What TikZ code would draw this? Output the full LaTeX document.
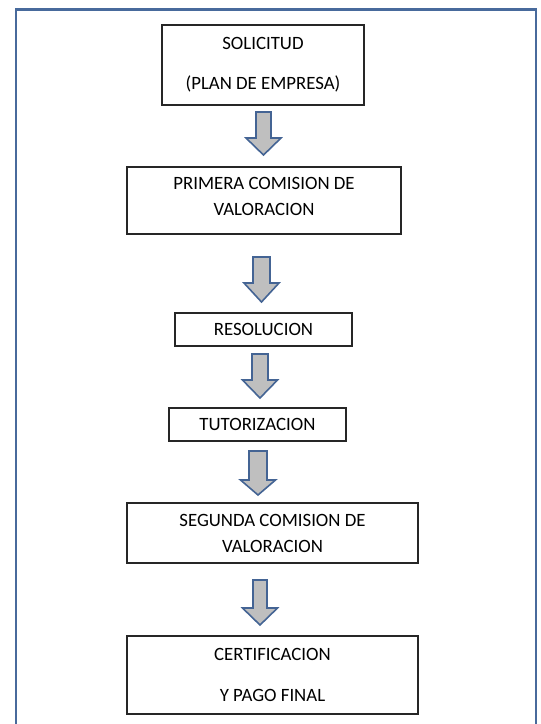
\documentclass[tikz,border=0pt]{standalone}
\usepackage{fontspec}
\setmainfont{Carlito}
\definecolor{frameblue}{RGB}{72,106,156}
\definecolor{arrowblue}{RGB}{68,100,148}
\definecolor{arrowgray}{RGB}{191,191,191}
\newcommand\blockarr[6]{% cx, top, headstart, tip, shaft half, head half
  \draw[blockarrow] ({#1-#5},#2) -- ({#1+#5},#2) -- ({#1+#5},#3) -- ({#1+#6},#3) -- (#1,#4) -- ({#1-#6},#3) -- ({#1-#5},#3) -- cycle;}
\begin{document}
\begin{tikzpicture}[x=1pt,y=-1pt,
  stepbox/.style={draw=black!85, line width=1.1pt, fill=white, align=center,
    font=\fontsize{18.8}{26}\selectfont, text=black, inner sep=0pt},
  blockarrow/.style={draw=arrowblue, line width=1.6pt, fill=arrowgray, line join=miter},
  frame/.style={draw=frameblue, line width=2.6pt}]
\useasboundingbox (0,0) rectangle (541,724);
\draw[frame] (16,735) -- (16,9.5) -- (536,9.5) -- (536,735);
\node[stepbox, minimum width=202pt, minimum height=80pt] (sol) at (263,65) {SOLICITUD\\[14pt](PLAN DE EMPRESA)};
\node[stepbox, minimum width=274pt, minimum height=67pt] (prim) at (264,200.5) {PRIMERA COMISION DE\\VALORACION\\[-18pt]\mbox{}};
\node[stepbox, minimum width=177pt, minimum height=33pt] (res) at (263.5,329.5) {RESOLUCION};
\node[stepbox, minimum width=177pt, minimum height=33pt] (tut) at (257.5,424.5) {TUTORIZACION};
\node[stepbox, minimum width=291pt, minimum height=60pt] (seg) at (272.5,533) {SEGUNDA COMISION DE\\VALORACION};
\node[stepbox, minimum width=291pt, minimum height=78pt] (cert) at (272.5,675) {CERTIFICACION\\[15pt]Y PAGO FINAL};
\blockarr{263.5}{112}{138}{155}{7.5}{17.5}
\blockarr{261.5}{257}{283}{302}{8.5}{17.5}
\blockarr{260}{354}{380}{398}{8}{17.5}
\blockarr{258}{451}{480}{495}{9}{17.5}
\blockarr{260}{580}{608}{625}{7}{17.5}
\end{tikzpicture}
\end{document}
